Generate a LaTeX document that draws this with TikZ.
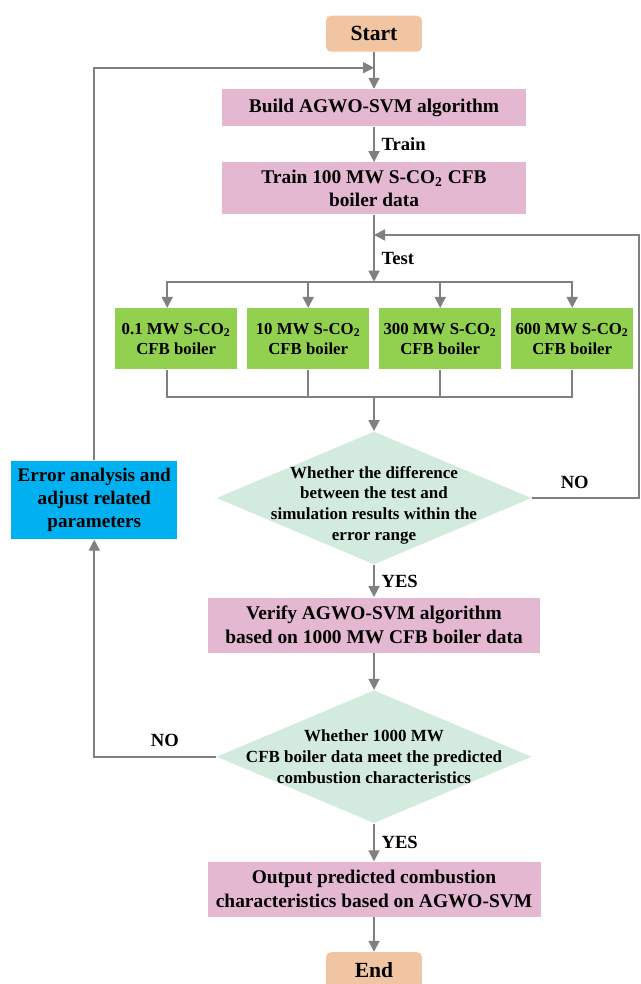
\documentclass[tikz,border=0pt]{standalone}
\usepackage{fontspec}
\setmainfont{Liberation Serif}
\usetikzlibrary{shapes.geometric, arrows.meta, calc}

\definecolor{termorange}{HTML}{F1C5A2}
\definecolor{procpink}{HTML}{E5B8D2}
\definecolor{boilgreen}{HTML}{92D050}
\definecolor{decmint}{HTML}{D3EBDF}
\definecolor{errblue}{HTML}{00B0F0}
\definecolor{linegray}{HTML}{808080}

\begin{document}
\begin{tikzpicture}[font=\bfseries]
% Styles
\tikzstyle{startstop} = [rectangle, rounded corners=2.5pt, minimum width=48pt, minimum height=18pt, text centered, fill=termorange, inner sep=0pt, font=\fontsize{10.8}{13}\selectfont\bfseries]
\tikzstyle{process} = [rectangle, minimum width=152pt, minimum height=18.5pt, text centered, fill=procpink, align=center, inner sep=0pt, font=\fontsize{9.7}{11.8}\selectfont\bfseries]
\tikzstyle{boiler} = [rectangle, minimum width=60.75pt, minimum height=30.5pt, text centered, fill=boilgreen, align=center, inner sep=0pt, font=\fontsize{8.4}{10}\selectfont\bfseries]
\tikzstyle{decision} = [diamond, minimum width=157.5pt, minimum height=66.5pt, fill=decmint, inner sep=0pt]
\tikzstyle{dectext} = [align=center, inner sep=0pt, font=\fontsize{8.5}{10.35}\selectfont\bfseries]
\tikzstyle{adjust} = [rectangle, minimum width=83pt, minimum height=39.3pt, text centered, fill=errblue, align=center, inner sep=0pt, font=\fontsize{9.6}{11.65}\selectfont\bfseries]
\tikzstyle{lbl} = [font=\fontsize{9.3}{11}\selectfont\bfseries]
\tikzstyle{line} = [line width=0.9pt, draw=linegray]
\tikzstyle{arrow} = [line width=0.9pt, draw=linegray, -{Triangle[width=5.5pt, length=5.5pt]}]

\useasboundingbox (0,0) rectangle (320.5pt,-492pt);

% Nodes
\node (start) [startstop] at (187pt,-16.85pt) {Start};
\node (build) [process, node distance=37pt, below of=start] {Build AGWO-SVM algorithm};
\node (train) [process, minimum height=26pt, node distance=40.4pt, below of=build] {Train 100 MW S-CO\textsubscript{2} CFB\\boiler data};
\node (b10) [boiler, node distance=75.15pt, below of=train, xshift=-32.9pt] {10 MW S-CO\textsubscript{2}\\CFB boiler};
\node (b01) [boiler, node distance=66pt, left of=b10] {0.1 MW S-CO\textsubscript{2}\\CFB boiler};
\node (b300) [boiler, node distance=66pt, right of=b10] {300 MW S-CO\textsubscript{2}\\CFB boiler};
\node (b600) [boiler, node distance=66pt, right of=b300] {600 MW S-CO\textsubscript{2}\\CFB boiler};
\node (check) [decision, node distance=154.75pt, below of=train, label={[dectext, yshift=-3.5pt]center:Whether the difference\\between the test and\\simulation results within the\\error range}] {};
\node (verify) [process, minimum width=166pt, minimum height=27.5pt, node distance=63.5pt, below of=check] {Verify AGWO-SVM algorithm\\based on 1000 MW CFB boiler data};
\node (judge) [decision, node distance=65.85pt, below of=verify, label={[dectext]center:Whether 1000 MW\\CFB boiler data meet the predicted\\combustion characteristics}] {};
\node (output) [process, minimum width=166.5pt, minimum height=27.5pt, node distance=66.25pt, below of=judge] {Output predicted combustion\\characteristics based on AGWO-SVM};
\node (end) [startstop, node distance=40.5pt, below of=output] {End};
\node (adjust) [adjust, node distance=139.85pt, left of=check, yshift=-1pt] {Error analysis and\\adjust related\\parameters};

% Joints
\coordinate [node distance=17pt, below of=start] (loopin);
\coordinate [node distance=23.25pt, below of=train] (retest);
\coordinate [node distance=46.6pt, below of=train] (split);
\coordinate [node distance=104.1pt, below of=train] (merge);
\coordinate [node distance=132.5pt, right of=check] (noright);

% Arrows
\draw [arrow] (start) -- (build);
\draw [arrow] (build) -- node[lbl, right] {Train} (train);
\draw [line] (train) -- (retest);
\draw [arrow] (retest) -- node[lbl, right] {Test} (split);
\draw [arrow] (split) -| ([xshift=-4.5pt]b01.north);
\draw [arrow] (split) -| (b10);
\draw [arrow] (split) -| (b300);
\draw [arrow] (split) -| (b600);
\draw [line] ([xshift=-4.5pt]b01.south) |- (merge);
\draw [line] (b10) |- (merge);
\draw [line] (b300) |- (merge);
\draw [line] (b600) |- (merge);
\draw [arrow] (merge) -- (check);
\draw [arrow] (check) -- node[lbl, above, pos=0.4, yshift=1pt] {NO} (noright) |- (retest);
\draw [arrow] (check) -- node[lbl, right] {YES} (verify);
\draw [arrow] (verify) -- (judge);
\draw [arrow] (judge) -- node[lbl, right] {YES} (output);
\draw [arrow] (output) -- (end);
\draw [arrow] (judge) -| node[lbl, above, pos=0.21, yshift=1pt] {NO} (adjust);
\draw [arrow] (adjust) |- (loopin);
\end{tikzpicture}
\end{document}
